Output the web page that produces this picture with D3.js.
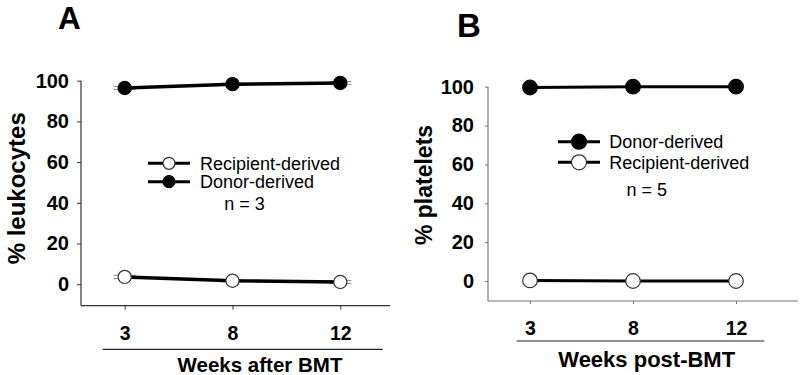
<!DOCTYPE html>
<html>
<head>
<meta charset="utf-8">
<script src="https://cdn.jsdelivr.net/npm/d3@7"></script>
<style>
  html, body { margin: 0; padding: 0; background: #fff; }
  svg { display: block; }
  text { font-family: "Liberation Sans", Arial, sans-serif; fill: #000; }
</style>
</head>
<body>
<svg id="chart" width="800" height="375"></svg>
<script>
// ---- Data ----
const weeks = ["3", "8", "12"];
const yTicks = [0, 20, 40, 60, 80, 100];

// Panel A: leukocytes (n = 3)
const leukoDonor = [96.4, 98.3, 98.9];
const leukoDonorErr = [0.8, 0.5, 0.7];
const leukoRecipient = [3.6, 1.7, 1.1];
const leukoRecipientErr = [0.8, 0.5, 0.7];

// Panel B: platelets (n = 5)
const pltDonor = [99.6, 100, 100];
const pltRecipient = [0.3, 0, 0];

const svg = d3.select("#chart");
const FONT = "'Liberation Sans', Arial, sans-serif";

function panel(cfg) {
  const g = svg.append("g");
  const y = d3.scaleLinear().domain(cfg.yDomain).range([cfg.bottom, cfg.top]);
  const x = d3.scalePoint().domain(weeks).range([cfg.x0, cfg.x1]);

  // axis lines (domain)
  g.append("line").attr("x1", cfg.axisLeft).attr("x2", cfg.axisLeft)
    .attr("y1", cfg.top).attr("y2", cfg.bottom)
    .attr("stroke", cfg.axisColor).attr("stroke-width", 1.2);
  g.append("line").attr("x1", cfg.axisLeft).attr("x2", cfg.axisRight)
    .attr("y1", cfg.bottom).attr("y2", cfg.bottom)
    .attr("stroke", cfg.axisColor).attr("stroke-width", 1.2);

  // y axis
  const ya = g.append("g").attr("transform", `translate(${cfg.axisLeft},0)`)
    .call(d3.axisLeft(y).tickValues(yTicks).tickSize(cfg.tickSize).tickPadding(cfg.yPad));
  ya.select(".domain").remove();
  ya.selectAll(".tick line").attr("stroke", cfg.axisColor);
  ya.selectAll(".tick text").attr("font-family", FONT).attr("font-weight", "bold")
    .attr("font-size", cfg.yTickFont).attr("fill", "#000");

  // x axis
  const xa = g.append("g").attr("transform", `translate(0,${cfg.bottom})`)
    .call(d3.axisBottom(x).tickSize(cfg.tickSize).tickPadding(cfg.xPad));
  xa.select(".domain").remove();
  xa.selectAll(".tick line").attr("stroke", cfg.axisColor);
  xa.selectAll(".tick text").attr("font-family", FONT).attr("font-weight", "bold")
    .attr("font-size", cfg.xTickFont).attr("fill", "#000");

  // underline + x title
  g.append("line").attr("x1", cfg.ulX0).attr("x2", cfg.ulX1)
    .attr("y1", cfg.ulY).attr("y2", cfg.ulY).attr("stroke", "#222").attr("stroke-width", 1.2);
  g.append("text").attr("x", cfg.xTitleX).attr("y", cfg.xTitleY)
    .attr("text-anchor", "middle").attr("font-weight", "bold")
    .attr("font-size", cfg.xTitleFont).text(cfg.xTitle);

  // y title
  g.append("text")
    .attr("transform", `translate(${cfg.yTitleX},${cfg.yTitleY}) rotate(-90)`)
    .attr("text-anchor", "middle").attr("font-weight", "bold")
    .attr("font-size", cfg.yTitleFont).text(cfg.yTitle);

  // panel letter
  g.append("text").attr("x", cfg.letterX).attr("y", cfg.letterY)
    .attr("font-weight", "bold").attr("font-size", cfg.letterFont).text(cfg.letter);

  const line = d3.line().x((d, i) => x(weeks[i])).y(d => y(d));

  cfg.series.forEach(s => {
    if (s.err) {
      s.values.forEach((v, i) => {
        [v - s.err[i], v + s.err[i]].forEach(ev => {
          g.append("line")
            .attr("x1", x(weeks[i]) - cfg.capHalf).attr("x2", x(weeks[i]) + cfg.capHalf)
            .attr("y1", y(ev)).attr("y2", y(ev))
            .attr("stroke", "#888").attr("stroke-width", 1);
        });
      });
    }
  });
  cfg.series.forEach(s => {
    g.append("path").datum(s.values).attr("d", line)
      .attr("fill", "none").attr("stroke", "#000").attr("stroke-width", cfg.lineW);
    g.selectAll(null).data(s.values).enter().append("circle")
      .attr("cx", (d, i) => x(weeks[i])).attr("cy", d => y(d))
      .attr("r", cfg.r)
      .attr("fill", s.filled ? "#000" : "#fff")
      .attr("stroke", s.filled ? "#000" : "#333").attr("stroke-width", 1.2);
  });

  // legend
  cfg.legend.forEach((L, i) => {
    const ly = cfg.legY[i];
    g.append("line").attr("x1", cfg.legX0).attr("x2", cfg.legX1)
      .attr("y1", ly).attr("y2", ly).attr("stroke", "#000").attr("stroke-width", 3);
    g.append("circle").attr("cx", (cfg.legX0 + cfg.legX1) / 2).attr("cy", ly)
      .attr("r", cfg.legR)
      .attr("fill", L.filled ? "#000" : "#fff")
      .attr("stroke", L.filled ? "#000" : "#333").attr("stroke-width", 1.2);
    g.append("text").attr("x", cfg.legTextX).attr("y", ly + 6.5)
      .attr("font-size", 18).text(L.label);
  });
  g.append("text").attr("x", cfg.nX).attr("y", cfg.nY)
    .attr("text-anchor", "middle").attr("font-size", 18).text(cfg.nText);
}

panel({
  yDomain: [-10.5, 100], top: 80.7, bottom: 305.6,
  x0: 124.7, x1: 340.3, axisLeft: 81, axisRight: 390, axisColor: "#333",
  tickSize: 4, yPad: 8, xPad: 17, yTickFont: 20, xTickFont: 19.5,
  ulX0: 102.7, ulX1: 382.7, ulY: 349.3,
  xTitle: "Weeks after BMT", xTitleX: 260, xTitleY: 371.7, xTitleFont: 20.5,
  yTitle: "% leukocytes", yTitleX: 25, yTitleY: 188.3, yTitleFont: 24,
  letter: "A", letterX: 58, letterY: 28.5, letterFont: 31.5,
  lineW: 3.5, r: 6.6, capHalf: 11,
  series: [
    { values: leukoDonor, err: leukoDonorErr, filled: true },
    { values: leukoRecipient, err: leukoRecipientErr, filled: false }
  ],
  legend: [
    { label: "Recipient-derived", filled: false },
    { label: "Donor-derived", filled: true }
  ],
  legY: [163.3, 181.7], legX0: 148, legX1: 190, legR: 6, legTextX: 200,
  nText: "n = 3", nX: 244.5, nY: 210
});

panel({
  yDomain: [-10.3, 100], top: 86.7, bottom: 301,
  x0: 530, x1: 736, axisLeft: 488, axisRight: 798, axisColor: "#777",
  tickSize: 3, yPad: 11, xPad: 17.5, yTickFont: 20, xTickFont: 19.5,
  ulX0: 516.7, ulX1: 764.3, ulY: 341,
  xTitle: "Weeks post-BMT", xTitleX: 646.7, xTitleY: 366.7, xTitleFont: 22,
  yTitle: "% platelets", yTitleX: 432, yTitleY: 185, yTitleFont: 23,
  letter: "B", letterX: 457, letterY: 37.3, letterFont: 33,
  lineW: 3, r: 7.3, capHalf: 0,
  series: [
    { values: pltDonor, filled: true },
    { values: pltRecipient, filled: false }
  ],
  legend: [
    { label: "Donor-derived", filled: true },
    { label: "Recipient-derived", filled: false }
  ],
  legY: [141.7, 162.3], legX0: 558, legX1: 600, legR: 7.5, legTextX: 609.3,
  nText: "n = 5", nX: 646.7, nY: 195.5
});
</script>
</body>
</html>
